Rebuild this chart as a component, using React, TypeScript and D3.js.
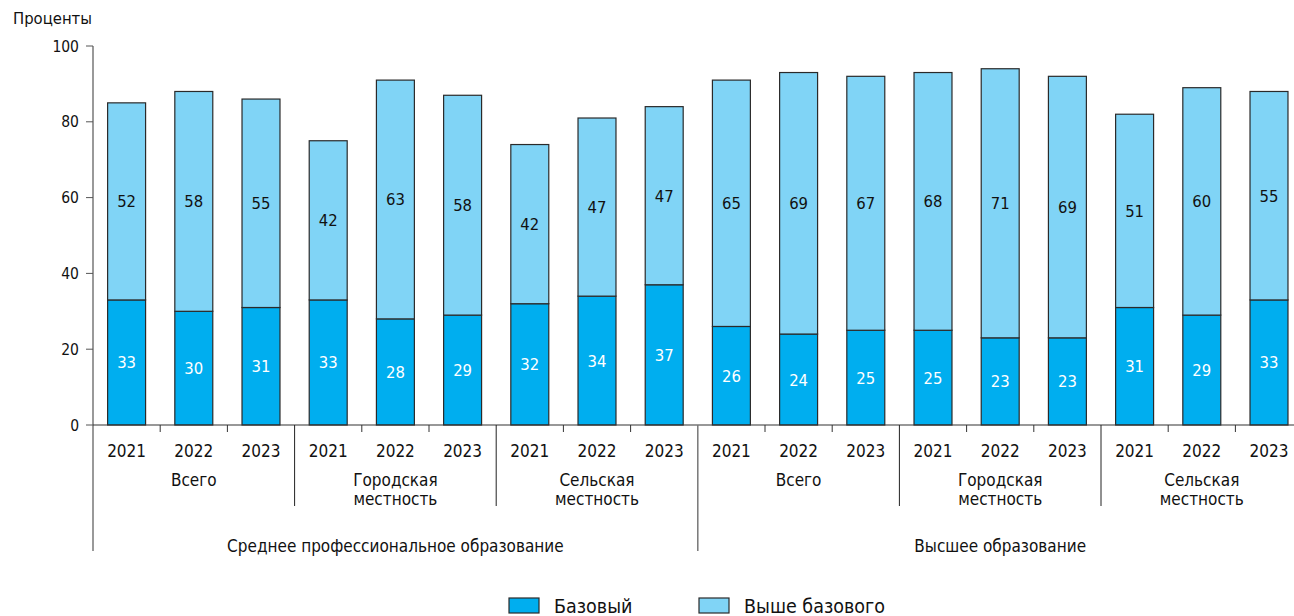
import React from "react";
import * as d3 from "d3";

const years = ["2021", "2022", "2023"];
const subgroups = ["Всего", "Городская|местность", "Сельская|местность"];
const majorGroups = ["Среднее профессиональное образование", "Высшее образование"];
const baseValues = [33, 30, 31, 33, 28, 29, 32, 34, 37, 26, 24, 25, 25, 23, 23, 31, 29, 33];
const aboveValues = [52, 58, 55, 42, 63, 58, 42, 47, 47, 65, 69, 67, 68, 71, 69, 51, 60, 55];
const yTicks = [0, 20, 40, 60, 80, 100];
const seriesNames = ["Базовый", "Выше базового"];
const colors = ["#00AEEF", "#80D4F6"];

const W = 1294;
const H = 616;
const FONT = "'DejaVu Sans Condensed', 'Liberation Sans Narrow', 'DejaVu Sans', sans-serif";

export default function App() {
  const n = baseValues.length;
  const idx = d3.range(n);
  const x = d3.scaleBand<number>().domain(idx).range([93, 1302.6]).paddingInner(0.435).paddingOuter(0.2175);
  const step = x.step();
  const x0 = 93;
  const y = d3.scaleLinear().domain([0, 100]).range([425, 46]);
  const stack = d3.stack<number>().keys(["0", "1"]).value((i, k) => (k === "0" ? baseValues[i] : aboveValues[i]));
  const series = stack(idx);
  const bw = x.bandwidth();
  const bx = (i: number) => x0 + step * i + (step - bw) / 2;

  return (
    <svg width={W} height={H} style={{ position: "absolute", left: 0, top: 0 }} fontFamily={FONT}>
      <rect width={W} height={H} fill="#fff" />
      <text x={13} y={24} fontSize={16.5} fill="#111">Проценты</text>
      {/* y axis */}
      <line x1={93} x2={93} y1={46} y2={551} stroke="#777" strokeWidth={1.5} />
      {yTicks.map((t) => (
        <g key={t}>
          <line x1={86} x2={93} y1={y(t)} y2={y(t)} stroke="#555" />
          <text x={79} y={y(t) + 5.5} fontSize={15.5} textAnchor="end" fill="#111">{t}</text>
        </g>
      ))}
      {/* bars */}
      {series.map((s, si) =>
        s.map((d, i) => (
          <rect key={si + "-" + i} x={bx(i)} width={bw} y={y(d[1])} height={y(d[0]) - y(d[1])}
            fill={colors[si]} stroke="#2a2a2a" strokeWidth={1.2} />
        ))
      )}
      {/* value labels */}
      {series.map((s, si) =>
        s.map((d, i) => (
          <text key={"l" + si + "-" + i} x={bx(i) + bw / 2} y={y((d[0] + d[1]) / 2) + 6}
            textAnchor="middle" fontSize={16.5} fill={si === 0 ? "#fff" : "#111"}>
            {si === 0 ? baseValues[i] : aboveValues[i]}
          </text>
        ))
      )}
      {/* x axis */}
      <line x1={93} x2={1302.6} y1={425} y2={425} stroke="#333" strokeWidth={1.2} />
      {idx.map((i) => (
        <g key={"t" + i}>
          {i % 3 !== 0 && (
            <line x1={x0 + step * i} x2={x0 + step * i} y1={425} y2={432} stroke="#333" />
          )}
          <text x={bx(i) + bw / 2} y={457} textAnchor="middle" fontSize={17} fill="#111">
            {years[i % 3]}
          </text>
        </g>
      ))}
      {d3.range(n / 3).map((g) => {
        const gx = x0 + step * 3 * g;
        const lines = subgroups[g % 3].split("|");
        const major = g % 3 === 0;
        return (
          <g key={"g" + g}>
            {!major && <line x1={gx} x2={gx} y1={425} y2={506} stroke="#222" strokeWidth={1} />}
            {lines.map((ln, li) => (
              <text key={li} x={gx + step * 1.5} y={lines.length === 1 ? 486 : 486 + li * 19}
                textAnchor="middle" fontSize={17} fill="#111">{ln}</text>
            ))}
          </g>
        );
      })}
      {majorGroups.map((m, mi) => {
        const mx = x0 + step * 9 * mi;
        return (
          <g key={"m" + mi}>
            {mi > 0 && <line x1={mx} x2={mx} y1={425} y2={551} stroke="#777" strokeWidth={1.5} />}
            <text x={mx + step * 4.5} y={552} textAnchor="middle" fontSize={17} fill="#111">{m}</text>
          </g>
        );
      })}
      {/* legend */}
      {seriesNames.map((name, i) => {
        const lx = i === 0 ? 509 : 699;
        return (
          <g key={"lg" + i}>
            <rect x={lx} y={598} width={30} height={15} fill={colors[i]} stroke="#2a2a2a" strokeWidth={1.2} />
            <text x={lx + 45} y={613} fontSize={19.5} fill="#111">{name}</text>
          </g>
        );
      })}
    </svg>
  );
}
